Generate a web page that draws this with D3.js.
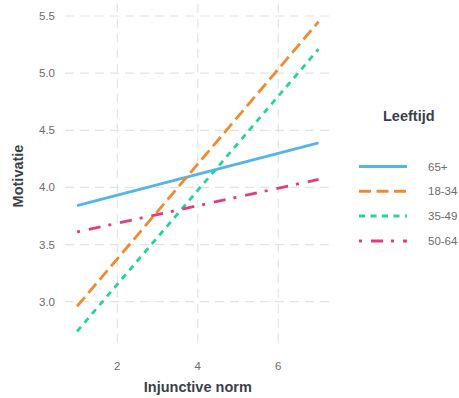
<!DOCTYPE html>
<html><head><meta charset="utf-8">
<script src="https://cdn.jsdelivr.net/npm/d3@7"></script>
<style>body{margin:0;background:#fff;}svg{display:block;}</style>
</head><body>
<svg id="chart" width="459" height="398"></svg>
<script>
const xPoints = [1, 7];
const groups = ["65+", "18-34", "35-49", "50-64"];
const values65plus = [3.84, 4.39];
const values18to34 = [2.96, 5.45];
const values35to49 = [2.74, 5.21];
const values50to64 = [3.61, 4.07];
const xTicks = [2, 4, 6];
const yTicks = [3.0, 3.5, 4.0, 4.5, 5.0, 5.5];
const colors = ["#56b4e9", "#ef8a2f", "#24d39e", "#e63a80"];
const dashes = [null, "12,5.5", "6,5.5", "3,9,12,8"];

const series = [values65plus, values18to34, values35to49, values50to64];
const svg = d3.select("#chart");
const x = d3.scaleLinear().domain([0.7, 7.3]).range([65, 330.6]);
const y = d3.scaleLinear().domain([3.0, 5.5]).range([301.7, 16]);
const yMin = 2.593, yMax = 5.607;

const grid = svg.append("g");
grid.selectAll(".gx").data(xTicks).join("line")
  .attr("x1", d => x(d)).attr("x2", d => x(d))
  .attr("y1", y(yMax)).attr("y2", y(yMin))
  .attr("stroke", "#e3e3e3").attr("stroke-width", 1.2).attr("stroke-dasharray", "9,6");
grid.selectAll(".gy").data(yTicks).join("line")
  .attr("x1", x(0.7)).attr("x2", x(7.3))
  .attr("y1", d => y(d)).attr("y2", d => y(d))
  .attr("stroke", "#e3e3e3").attr("stroke-width", 1.2).attr("stroke-dasharray", "9,6");

const font = "'Liberation Sans', Arial, sans-serif";
svg.append("g").selectAll("text").data(xTicks).join("text")
  .attr("x", d => x(d)).attr("y", 370).attr("text-anchor", "middle")
  .attr("font-family", font).attr("font-size", 11.5).attr("fill", "#6b6b6b")
  .text(d => d3.format("d")(d));
svg.append("g").selectAll("text").data(yTicks).join("text")
  .attr("x", 55).attr("y", d => y(d) + 4).attr("text-anchor", "end")
  .attr("font-family", font).attr("font-size", 11.5).attr("fill", "#6b6b6b")
  .text(d => d3.format(".1f")(d));

svg.append("text").attr("x", (x(0.7) + x(7.3)) / 2).attr("y", 392)
  .attr("text-anchor", "middle").attr("font-family", font).attr("font-weight", "bold")
  .attr("font-size", 14.5).attr("fill", "#3b3f4a").text("Injunctive norm");
svg.append("text").attr("transform", `translate(23,${(y(yMax) + y(yMin)) / 2}) rotate(-90)`)
  .attr("text-anchor", "middle").attr("font-family", font).attr("font-weight", "bold")
  .attr("font-size", 14.5).attr("fill", "#3b3f4a").text("Motivatie");

const line = d3.line().x((d, i) => x(xPoints[i])).y(d => y(d));
svg.append("g").selectAll("path").data(series).join("path")
  .attr("d", d => line(d)).attr("fill", "none")
  .attr("stroke", (d, i) => colors[i]).attr("stroke-width", 2.8)
  .attr("stroke-dasharray", (d, i) => dashes[i]);

const leg = svg.append("g");
leg.append("text").attr("x", 383).attr("y", 121).attr("font-family", font)
  .attr("font-weight", "bold").attr("font-size", 14.5).attr("fill", "#3b3f4a").text("Leeftijd");
const rows = leg.selectAll("g").data(groups).join("g")
  .attr("transform", (d, i) => `translate(0,${166.5 + i * 24.8})`);
rows.append("line").attr("x1", 359).attr("x2", 407).attr("y1", 0).attr("y2", 0)
  .attr("stroke", (d, i) => colors[i]).attr("stroke-width", 3)
  .attr("stroke-dasharray", (d, i) => dashes[i]);
rows.append("text").attr("x", 428).attr("y", 4).attr("font-family", font)
  .attr("font-size", 11.5).attr("fill", "#6b6b6b").text(d => d);
</script>
</body></html>
